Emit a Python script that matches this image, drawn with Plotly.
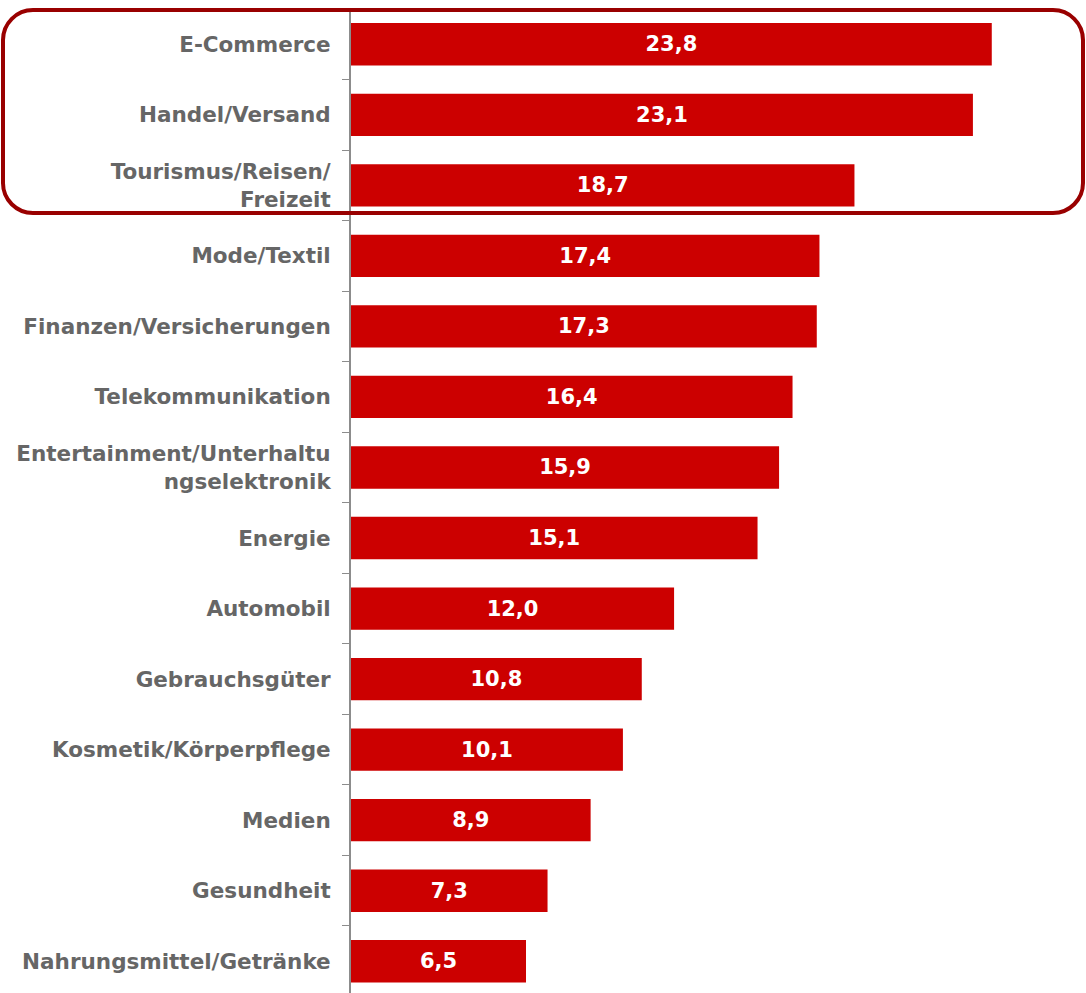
import plotly.graph_objects as go

# Branchen und Werte (von oben nach unten)
categories = [
    "E-Commerce",
    "Handel/Versand",
    "Tourismus/Reisen/<br>Freizeit",
    "Mode/Textil",
    "Finanzen/Versicherungen",
    "Telekommunikation",
    "Entertainment/Unterhaltu<br>ngselektronik",
    "Energie",
    "Automobil",
    "Gebrauchsgüter",
    "Kosmetik/Körperpflege",
    "Medien",
    "Gesundheit",
    "Nahrungsmittel/Getränke",
]
values = [23.8, 23.1, 18.7, 17.4, 17.3, 16.4, 15.9, 15.1, 12.0, 10.8, 10.1, 8.9, 7.3, 6.5]

W, H = 1086, 993
ML, MR, MT, MB = 351, 0, 9, 0
PW, PH = W - ML - MR, H - MT - MB

BAR_COLOR = "#CC0000"
BOX_COLOR = "#990000"
LABEL_COLOR = "#666666"


def to_paper(px, py):
    return (px - ML) / PW, 1 - (py - MT) / PH


def rounded_rect_path(x0, y0, x1, y1, r):
    # pixel coords -> paper coords, cubic bezier corners
    k = 0.5523 * r
    pts = [
        ("M", [(x0 + r, y0)]),
        ("L", [(x1 - r, y0)]),
        ("C", [(x1 - r + k, y0), (x1, y0 + r - k), (x1, y0 + r)]),
        ("L", [(x1, y1 - r)]),
        ("C", [(x1, y1 - r + k), (x1 - r + k, y1), (x1 - r, y1)]),
        ("L", [(x0 + r, y1)]),
        ("C", [(x0 + r - k, y1), (x0, y1 - r + k), (x0, y1 - r)]),
        ("L", [(x0, y0 + r)]),
        ("C", [(x0, y0 + r - k), (x0 + r - k, y0), (x0 + r, y0)]),
    ]
    out = []
    for cmd, coords in pts:
        s = " ".join("%.5f,%.5f" % to_paper(x, y) for x, y in coords)
        out.append(cmd + " " + s)
    return " ".join(out) + " Z"


fig = go.Figure()

fig.add_trace(go.Bar(
    x=values,
    y=categories,
    orientation="h",
    marker=dict(color=BAR_COLOR, line=dict(width=0)),
    text=values,
    texttemplate="%{x:.1f}",
    textposition="inside",
    insidetextanchor="middle",
    textangle=0,
    textfont=dict(family="DejaVu Sans", size=21, color="white", weight="bold"),
    hoverinfo="skip",
))

fig.update_layout(
    width=W,
    height=H,
    margin=dict(l=ML, r=MR, t=MT, b=MB),
    plot_bgcolor="white",
    paper_bgcolor="white",
    separators=",.",
    bargap=0.4,
    showlegend=False,
    xaxis=dict(
        range=[0, 27.3],
        visible=False,
        showgrid=False,
        zeroline=False,
    ),
    yaxis=dict(
        type="category",
        range=[13.45, -0.5],
        showline=True,
        linecolor="#8c8c8c",
        linewidth=2,
        ticks="outside",
        tickson="boundaries",
        ticklen=7,
        tickwidth=1,
        tickcolor="#8c8c8c",
        ticklabelstandoff=14,
        showgrid=False,
        tickfont=dict(family="DejaVu Sans", size=21.5, color=LABEL_COLOR, weight="bold"),
    ),
    shapes=[dict(
        type="path",
        xref="paper",
        yref="paper",
        path=rounded_rect_path(3, 10, 1083, 213, 30),
        line=dict(color=BOX_COLOR, width=4),
        layer="above",
    )],
)

# Seitenrand des Browsers entfernen, damit die Grafik bei (0,0) beginnt
fig.write_html(
    "out.html",
    config={"displayModeBar": False},
    post_script="document.body.style.margin='0px';",
)
